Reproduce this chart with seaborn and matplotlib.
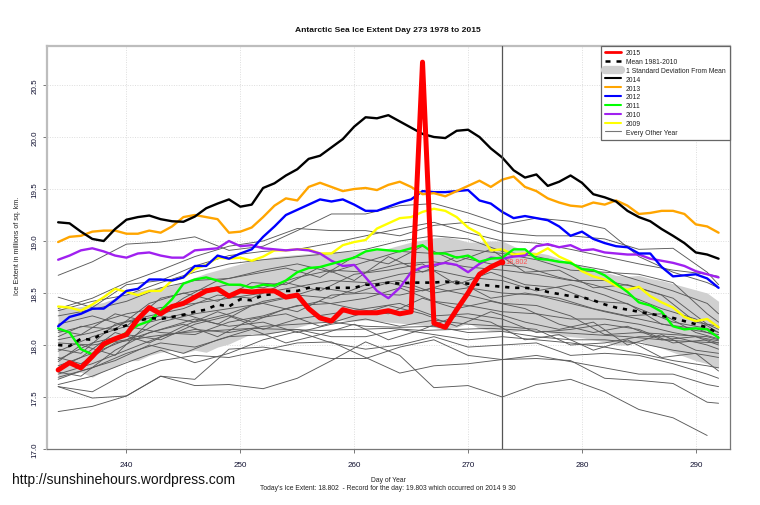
import numpy as np
import pandas as pd
import matplotlib
matplotlib.use('Agg')
import matplotlib.pyplot as plt
from matplotlib.lines import Line2D
import seaborn as sns

days = list(range(234, 293))
days_2015 = list(range(234, 274))
grid_days = [234, 237, 240, 243, 246, 249, 252, 255, 258, 261, 264, 267, 270, 273, 276, 279, 282, 285, 288, 291, 292]
grid_days_b = [234, 236, 239, 242, 245, 248, 251, 254, 257, 260, 263, 266, 269, 272, 275, 278, 281, 284, 287, 290, 292]

ice_2015 = [17.76, 17.83, 17.78, 17.89, 18.01, 18.06, 18.10, 18.25, 18.36, 18.30, 18.37, 18.40, 18.46, 18.52, 18.54, 18.47, 18.52, 18.51, 18.52, 18.52,
            18.46, 18.48, 18.35, 18.26, 18.23, 18.34, 18.31, 18.31, 18.31, 18.33, 18.30, 18.32, 20.72, 18.21, 18.17, 18.34, 18.50, 18.68, 18.75, 18.802]
ice_2014 = [19.18, 19.17, 19.09, 19.02, 19.00, 19.115, 19.205, 19.23, 19.245, 19.21, 19.19, 19.185, 19.235, 19.315, 19.36, 19.40, 19.33, 19.35, 19.51, 19.555,
            19.63, 19.69, 19.79, 19.82, 19.90, 19.98, 20.10, 20.19, 20.18, 20.21, 20.15, 20.09, 20.03, 20.00, 19.99, 20.06, 20.07, 20.00, 19.89, 19.803,
            19.68, 19.61, 19.64, 19.53, 19.57, 19.63, 19.56, 19.45, 19.42, 19.38, 19.29, 19.23, 19.19, 19.115, 19.05, 18.98, 18.89, 18.87, 18.83]
ice_2013 = [18.99, 19.04, 19.05, 19.09, 19.10, 19.10, 19.07, 19.07, 19.10, 19.08, 19.14, 19.23, 19.25, 19.23, 19.21, 19.08, 19.09, 19.13, 19.23, 19.34,
            19.41, 19.39, 19.52, 19.56, 19.52, 19.48, 19.50, 19.51, 19.49, 19.54, 19.57, 19.52, 19.45, 19.46, 19.43, 19.48, 19.53, 19.58, 19.52, 19.59,
            19.62, 19.52, 19.48, 19.41, 19.37, 19.34, 19.33, 19.37, 19.35, 19.39, 19.34, 19.26, 19.27, 19.29, 19.29, 19.26, 19.16, 19.14, 19.08]
ice_2012 = [18.18, 18.27, 18.30, 18.35, 18.35, 18.43, 18.52, 18.54, 18.63, 18.63, 18.62, 18.65, 18.76, 18.76, 18.86, 18.83, 18.88, 18.92, 19.04, 19.14,
            19.25, 19.30, 19.35, 19.40, 19.38, 19.40, 19.35, 19.29, 19.29, 19.33, 19.37, 19.40, 19.48, 19.47, 19.47, 19.48, 19.49, 19.39, 19.36, 19.28,
            19.22, 19.24, 19.22, 19.20, 19.14, 19.05, 19.09, 19.02, 18.98, 18.95, 18.94, 18.88, 18.88, 18.75, 18.66, 18.67, 18.68, 18.64, 18.55]
ice_2011 = [18.16, 18.12, 17.96, 17.91, 17.99, 18.05, 18.12, 18.19, 18.23, 18.33, 18.44, 18.59, 18.63, 18.65, 18.62, 18.58, 18.58, 18.55, 18.58, 18.57,
            18.62, 18.70, 18.74, 18.75, 18.78, 18.81, 18.84, 18.90, 18.92, 18.91, 18.90, 18.93, 18.96, 18.88, 18.88, 18.84, 18.86, 18.80, 18.83, 18.84,
            18.92, 18.92, 18.83, 18.82, 18.80, 18.79, 18.73, 18.72, 18.67, 18.59, 18.51, 18.41, 18.38, 18.32, 18.18, 18.15, 18.16, 18.15, 18.07]
ice_2010 = [18.82, 18.86, 18.91, 18.93, 18.90, 18.86, 18.84, 18.88, 18.89, 18.86, 18.84, 18.84, 18.91, 18.92, 18.93, 19.00, 18.95, 18.96, 18.93, 18.92,
            18.91, 18.92, 18.91, 18.88, 18.81, 18.76, 18.77, 18.65, 18.52, 18.45, 18.55, 18.70, 18.75, 18.77, 18.79, 18.77, 18.70, 18.78, 18.84, 18.83,
            18.85, 18.86, 18.95, 18.97, 18.94, 18.96, 18.91, 18.92, 18.89, 18.88, 18.87, 18.87, 18.83, 18.81, 18.79, 18.76, 18.71, 18.68, 18.65]
ice_2009 = [18.37, 18.36, 18.33, 18.39, 18.46, 18.54, 18.51, 18.48, 18.52, 18.52, 18.62, 18.65, 18.73, 18.77, 18.84, 18.83, 18.84, 18.81, 18.85, 18.91,
            18.91, 18.92, 18.92, 18.88, 18.88, 18.96, 18.99, 19.01, 19.12, 19.17, 19.22, 19.23, 19.28, 19.31, 19.29, 19.23, 19.13, 19.07, 18.91, 18.92,
            18.87, 18.88, 18.87, 18.93, 18.85, 18.80, 18.71, 18.66, 18.63, 18.57, 18.53, 18.56, 18.47, 18.41, 18.36, 18.27, 18.23, 18.25, 18.17]
ice_mean = [18.00, 17.99, 18.06, 18.05, 18.12, 18.15, 18.19, 18.23, 18.26, 18.25, 18.27, 18.29, 18.32, 18.34, 18.39, 18.37, 18.44, 18.43, 18.48, 18.49,
            18.52, 18.52, 18.55, 18.54, 18.55, 18.55, 18.55, 18.58, 18.58, 18.60, 18.59, 18.60, 18.60, 18.60, 18.61, 18.60, 18.59, 18.58, 18.57, 18.56,
            18.55, 18.55, 18.54, 18.51, 18.49, 18.47, 18.46, 18.43, 18.39, 18.36, 18.34, 18.32, 18.30, 18.28, 18.26, 18.23, 18.20, 18.17, 18.11]
sd_upper = [18.35, 18.36, 18.37, 18.39, 18.41, 18.45, 18.49, 18.52, 18.54, 18.56, 18.57, 18.61, 18.65, 18.69, 18.72, 18.75, 18.78, 18.81, 18.83, 18.85,
            18.86, 18.87, 18.88, 18.89, 18.90, 18.90, 18.90, 18.91, 18.92, 18.93, 18.96, 18.99, 19.01, 19.03, 19.04, 19.02, 18.99, 18.99, 19.00, 19.00,
            18.95, 18.91, 18.89, 18.87, 18.83, 18.79, 18.76, 18.73, 18.70, 18.67, 18.66, 18.67, 18.64, 18.62, 18.59, 18.56, 18.53, 18.50, 18.42]
sd_lower = [17.68, 17.72, 17.74, 17.69, 17.75, 17.79, 17.85, 17.85, 17.90, 17.93, 17.95, 17.92, 17.95, 17.93, 17.98, 18.01, 18.06, 18.11, 18.09, 18.12,
            18.14, 18.17, 18.20, 18.22, 18.23, 18.24, 18.23, 18.24, 18.23, 18.22, 18.21, 18.20, 18.19, 18.17, 18.15, 18.17, 18.21, 18.16, 18.14, 18.13,
            18.13, 18.14, 18.16, 18.12, 18.09, 18.08, 18.07, 18.05, 18.03, 18.00, 18.00, 18.04, 18.00, 17.97, 17.93, 17.89, 17.85, 17.82, 17.78]

other_years = [
    [17.60, 17.49, 17.51, 17.70, 17.61, 17.62, 17.58, 17.68, 17.85, 18.03, 17.90, 17.59, 17.61, 17.50, 17.62, 17.67, 17.55, 17.38, 17.30, 17.13, np.nan],
    [17.36, 17.41, 17.51, 17.70, 17.67, 17.96, 17.98, 17.93, 17.87, 17.87, 17.98, 18.05, 17.90, 17.86, 17.87, 17.85, 17.68, 17.66, 17.63, 17.45, 17.44],
    [17.60, 17.55, 17.73, 17.85, 17.90, 17.88, 17.95, 18.02, 18.03, 17.88, 17.73, 17.80, 17.82, 17.86, 17.90, 17.84, 17.78, 17.72, 17.72, 17.62, 17.60],
    [17.62, 17.70, 17.83, 17.95, 17.83, 17.92, 18.05, 18.13, 18.02, 17.96, 18.00, 18.08, 17.98, 18.00, 18.02, 17.90, 17.92, 17.90, 17.82, 17.72, 17.68],
    [17.69, 17.78, 17.92, 18.02, 17.98, 18.08, 18.10, 18.15, 18.08, 18.08, 18.15, 18.10, 18.05, 18.08, 18.05, 18.02, 17.98, 17.92, 17.85, 17.80, 17.78],
    [17.72, 17.82, 17.95, 18.08, 18.15, 18.12, 18.18, 18.20, 18.22, 18.18, 18.17, 18.18, 18.12, 18.13, 18.08, 18.05, 18.05, 18.02, 17.95, 17.90, 17.88],
    [17.80, 17.92, 18.05, 18.15, 18.25, 18.18, 18.22, 18.12, 18.20, 18.25, 18.18, 18.24, 18.20, 18.18, 18.15, 18.00, 18.02, 18.08, 18.08, 18.00, 17.96],
    [17.86, 18.02, 18.10, 18.05, 18.20, 18.28, 18.15, 18.25, 18.30, 18.35, 18.40, 18.28, 18.30, 18.25, 18.12, 18.15, 18.20, 18.15, 18.02, 18.05, 18.02],
    [17.94, 18.08, 18.18, 18.12, 18.10, 18.22, 18.28, 18.38, 18.40, 18.45, 18.55, 18.42, 18.38, 18.32, 18.30, 18.25, 18.25, 18.20, 18.12, 18.06, 18.04],
    [18.02, 18.00, 18.05, 18.22, 18.30, 18.35, 18.40, 18.32, 18.48, 18.50, 18.48, 18.55, 18.48, 18.40, 18.38, 18.28, 18.10, 18.12, 18.10, 18.08, 18.05],
    [18.05, 18.12, 18.22, 18.28, 18.22, 18.30, 18.42, 18.48, 18.45, 18.58, 18.62, 18.50, 18.55, 18.50, 18.48, 18.40, 18.32, 18.25, 18.18, 18.12, 18.10],
    [18.12, 18.20, 18.30, 18.36, 18.40, 18.45, 18.50, 18.56, 18.62, 18.60, 18.68, 18.72, 18.65, 18.62, 18.52, 18.58, 18.48, 18.35, 18.22, 18.16, 18.12],
    [18.20, 18.28, 18.18, 18.45, 18.52, 18.58, 18.55, 18.65, 18.72, 18.70, 18.78, 18.80, 18.75, 18.72, 18.68, 18.62, 18.62, 18.55, 18.45, 18.20, 18.15],
    [18.28, 18.34, 18.42, 18.55, 18.62, 18.64, 18.72, 18.78, 18.70, 18.80, 18.90, 18.88, 18.92, 18.88, 18.82, 18.72, 18.70, 18.68, 18.60, 18.30, 18.22],
    [18.33, 18.42, 18.48, 18.60, 18.70, 18.78, 18.82, 18.85, 18.88, 18.92, 19.00, 19.05, 19.02, 18.90, 18.85, 18.78, 18.72, 18.62, 18.52, 18.40, 18.30],
    [18.46, 18.36, 18.58, 18.62, 18.76, 18.86, 18.90, 18.92, 18.98, 19.05, 19.12, 19.18, 19.08, 19.00, 18.98, 18.92, 18.85, 18.78, 18.72, 18.68, 18.66],
    [18.67, 18.80, 18.97, 18.99, 19.04, 18.91, 18.95, 19.10, 19.26, 19.26, 19.34, 19.36, 19.27, 19.16, 19.22, 19.19, 19.12, 18.85, 18.70, 18.60, 18.55],
    [18.35, 18.45, 18.60, 18.72, 18.85, 18.95, 19.00, 19.12, 19.10, 19.10, 19.05, 19.15, 19.18, 19.08, 19.05, 19.05, 19.02, 18.92, 18.93, 18.70, 18.58],
]
other_years_b = [
    [17.67, 17.75, 17.85, 18.00, 17.92, 18.05, 18.15, 18.02, 18.10, 18.20, 18.05, 18.15, 18.28, 18.22, 18.05, 18.10, 17.95, 18.05, 17.88, 17.92, 17.75],
    [17.74, 17.70, 17.95, 18.12, 18.20, 18.08, 18.25, 18.30, 18.18, 18.28, 18.38, 18.30, 18.18, 18.32, 18.22, 18.15, 18.22, 18.00, 18.10, 17.95, 17.92],
    [17.78, 17.88, 18.12, 18.02, 18.18, 18.32, 18.22, 18.35, 18.42, 18.35, 18.30, 18.45, 18.35, 18.42, 18.35, 18.20, 18.12, 18.18, 18.05, 18.08, 18.00],
    [17.84, 18.00, 17.90, 18.22, 18.30, 18.20, 18.38, 18.45, 18.55, 18.50, 18.60, 18.52, 18.62, 18.45, 18.50, 18.45, 18.35, 18.28, 18.30, 18.12, 18.06],
    [17.96, 17.92, 18.20, 18.28, 18.35, 18.48, 18.45, 18.60, 18.52, 18.68, 18.72, 18.78, 18.58, 18.70, 18.58, 18.55, 18.42, 18.40, 18.20, 18.16, 18.08],
    [18.08, 18.18, 18.15, 18.40, 18.50, 18.42, 18.60, 18.58, 18.75, 18.62, 18.85, 18.70, 18.85, 18.78, 18.75, 18.65, 18.58, 18.48, 18.35, 18.25, 18.12],
    [18.14, 18.10, 18.30, 18.22, 18.45, 18.62, 18.68, 18.74, 18.65, 18.85, 18.78, 18.95, 18.80, 18.92, 18.70, 18.72, 18.55, 18.58, 18.48, 18.22, 18.18],
    [17.88, 17.82, 18.02, 18.08, 18.12, 18.14, 18.16, 18.15, 18.14, 18.15, 18.16, 18.14, 18.15, 18.16, 18.14, 18.12, 18.10, 18.08, 18.05, 18.03, 18.02],
]

x_ticks = [240, 250, 260, 270, 280, 290]
y_ticks = [17.0, 17.5, 18.0, 18.5, 19.0, 19.5, 20.0, 20.5]
legend_labels = ['2015', 'Mean 1981-2010', '1 Standard Deviation From Mean', '2014', '2013', '2012', '2011', '2010', '2009', 'Every Other Year']

sns.set_style('white')
plt.rcParams['font.family'] = ['Liberation Sans', 'DejaVu Sans']

fig = plt.figure(figsize=(7.6, 5.06), dpi=100)
ax = fig.add_axes([47 / 760, 1 - 450 / 506, (729.5 - 47) / 760, (450 - 46.5) / 506])

band_grey = '#d0d0d0'
ax.fill_between(days, sd_lower, sd_upper, color=band_grey, lw=0, zorder=1)
ax.grid(True, color='#dddddd', lw=0.7, ls=(0, (1, 1.5)))
ax.set_axisbelow(True)

# thin lines for the other years
for grid, rows in [(grid_days, other_years), (grid_days_b, other_years_b)]:
    for row in rows:
        df = pd.DataFrame({'day': grid, 'ice': row}).dropna()
        sns.lineplot(data=df, x='day', y='ice', color='#5a5a5a', lw=0.65, ax=ax, zorder=2, estimator=None, errorbar=None)

coloured = [(ice_2009, '#ffff00'), (ice_2010, '#a020f0'), (ice_2011, '#00ff00'),
            (ice_2012, '#0000ff'), (ice_2013, '#ffa500'), (ice_2014, '#000000')]
for vals, col in coloured:
    sns.lineplot(x=days, y=vals, color=col, lw=1.7, ax=ax, zorder=3, estimator=None, errorbar=None)

sns.lineplot(x=days, y=ice_mean, color='black', lw=1.9, linestyle=(0, (1.6, 2.2)), ax=ax, zorder=4, estimator=None, errorbar=None)
sns.lineplot(x=days_2015, y=ice_2015, color='#ff0000', lw=3.6, ax=ax, zorder=5, estimator=None, errorbar=None)

ax.axvline(273, color='#555555', lw=0.9, zorder=6)
ax.plot([273], [ice_2015[-1]], 'o', color='#ff0000', ms=3, zorder=6)
ax.text(273.3, ice_2015[-1], '18.802', color='#ff5050', fontsize=5.2, va='center', zorder=7)

ax.set_xlim(233.02, 292.96)
ax.set_ylim(17.0, 20.88)
ax.set_xticks(x_ticks)
ax.set_yticks(y_ticks)
ax.set_xticklabels([str(t) for t in x_ticks], fontsize=5.8, color='#101030')
ax.set_yticklabels([f'{t:.1f}' for t in y_ticks], fontsize=5.8, rotation=90, va='center', color='#101030')
ax.tick_params(length=3, width=0.7, color='#777777', bottom=True, left=True)
ax.tick_params(axis='y', pad=3)
ax.tick_params(axis='x', pad=6)
ax.set_xlabel('')
ax.set_ylabel('')

for side in ['left', 'top']:
    ax.spines[side].set_color('#bdbdbd')
    ax.spines[side].set_linewidth(1.6)
for side in ['right', 'bottom']:
    ax.spines[side].set_color('#777777')
    ax.spines[side].set_linewidth(0.9)

handles = [
    Line2D([], [], color='#ff0000', lw=2.0),
    Line2D([], [], color='black', lw=1.8, ls=(0, (2.0, 2.4))),
    Line2D([], [], color=band_grey, lw=6, solid_capstyle='round'),
    Line2D([], [], color='black', lw=1.5),
    Line2D([], [], color='#ffa500', lw=1.5),
    Line2D([], [], color='#0000ff', lw=1.5),
    Line2D([], [], color='#00ff00', lw=1.5),
    Line2D([], [], color='#a020f0', lw=1.5),
    Line2D([], [], color='#ffff00', lw=1.5),
    Line2D([], [], color='#777777', lw=0.8),
]
leg = ax.legend(handles, legend_labels, loc='upper right', fontsize=4.9, frameon=True, fancybox=False,
                edgecolor='#666666', framealpha=1, borderaxespad=0, labelspacing=0.27, handlelength=2.3,
                handletextpad=0.8, borderpad=0.55, labelcolor='#222222')
leg.get_frame().set_linewidth(0.9)
leg.set_zorder(10)

fig.text(388 / 760, 1 - 31 / 506, 'Antarctic Sea Ice Extent Day 273 1978 to 2015', ha='center', va='center',
         fontsize=6.1, fontweight='bold', color='#111111')
fig.text(18 / 760, 1 - 246 / 506, 'Ice Extent in millions of sq. km.', rotation=90, ha='center', va='center',
         fontsize=5.1, color='#222222')
fig.text(388 / 760, 1 - 481 / 506, 'Day of Year', ha='center', va='center', fontsize=4.85, color='#222222')
fig.text(388 / 760, 1 - 488.5 / 506, "Today's Ice Extent: 18.802  - Record for the day: 19.803 which occurred on 2014 9 30",
         ha='center', va='center', fontsize=4.85, color='#222222')
fig.text(12 / 760, 1 - 480 / 506, 'http://sunshinehours.wordpress.com', ha='left', va='center', fontsize=10.0, color='#111111')

fig.savefig('out.png', dpi=100)
